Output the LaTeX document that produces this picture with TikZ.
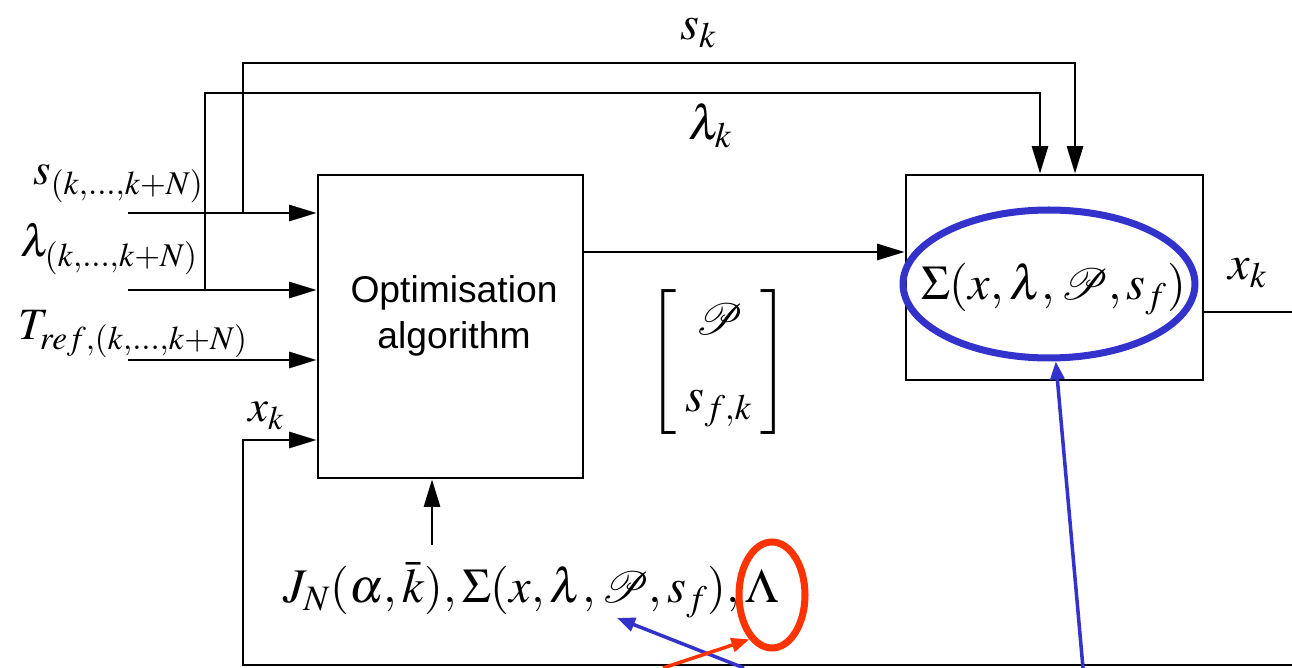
\documentclass[tikz,border=0pt]{standalone}
\usepackage{mathptmx}
\usepackage{mathrsfs}
\usepackage[no-math]{fontspec}
\newfontfamily\arialfont{Liberation Sans}
\usetikzlibrary{arrows.meta,shapes.geometric}
\definecolor{ringblue}{RGB}{51,51,204}
\definecolor{ringred}{RGB}{255,51,0}
\tikzset{
  blk/.style={draw, line width=1.6pt, inner sep=0pt},
  conn/.style={line width=1.6pt, -{Triangle[length=5.5mm,width=3.2mm]}},
  wire/.style={line width=1.6pt},
  lbl/.style={inner sep=0pt, font=\fontsize{27.5}{32}\selectfont},
  sublbl/.style={inner sep=0pt, font=\fontsize{25.5}{30}\selectfont},
  ring/.style={ellipse, draw, line width=4pt, inner sep=0pt},
  note/.style={line width=2pt, -{Triangle[length=3.6mm,width=2.8mm]}},
}
\begin{document}
\begin{tikzpicture}[x=0.02cm,y=-0.02cm]
\useasboundingbox (0,0) rectangle (1292,668);
% blocks
\node[blk, minimum width=5.3cm, minimum height=6.06cm] (opt) at (450.5,326.5) {};
\node[inner sep=0pt, align=center, font=\arialfont\fontsize{21.2}{26}\selectfont] (optt) at (454,316) {Optimisation\\algorithm};
\node[blk, minimum width=5.94cm, minimum height=4.1cm] (sig) at (1054.5,277.5) {};
\node[lbl, anchor=base west] (sigt) at (921,300) {$\Sigma(x,\lambda,\mathscr{P},s_f)$};
\node[ring, draw=ringblue, minimum width=5.84cm, minimum height=2.96cm] (sigring) at (1049,284) {};
% labels
\node[lbl, anchor=base west] (skl) at (680,40) {$s_k$};
\node[lbl, anchor=base west] (lkl) at (688,140) {$\lambda_k$};
\node[lbl, anchor=base west] (xko) at (1228,280) {$x_k$};
\node[sublbl, anchor=base west] (sin) at (33,185) {$s_{(k,\dots,k+N)}$};
\node[sublbl, anchor=base west] (lin) at (20,257) {$\lambda_{(k,\dots,k+N)}$};
\node[sublbl, anchor=base west] (tin) at (18,340) {$T_{ref,(k,\dots,k+N)}$};
\node[sublbl, anchor=base west] (xin) at (248,422) {$x_k$};
\node[lbl] (vec) at (719,362) {$\left[\begin{array}{c}\mathscr{P}\\[12pt] s_{f,k}\end{array}\right]$};
\node[lbl, anchor=base west] (cost) at (283,603) {$J_N(\alpha,\bar{k}),\Sigma(x,\lambda,\mathscr{P},s_f),\Lambda$};
\node[ring, draw=ringred, minimum width=1.32cm, minimum height=2.12cm] (lamring) at (772,595) {};
% coordinates
\coordinate (ps) at (128,213);
\coordinate (pl) at (128,290);
\coordinate (pt) at (128,360);
\coordinate (stap) at (243,213);
\coordinate (stop) at (243,63);
\coordinate (sright) at (1075,63);
\coordinate (ltap) at (205,290);
\coordinate (ltop) at (205,93);
\coordinate (lright) at (1040,93);
\coordinate (mid) at (700,252);
\coordinate (out) at (1292,312);
\coordinate (fb0) at (1292,665);
\coordinate (fbc) at (243,665);
\coordinate (fbt) at (243,440);
\coordinate (jn) at (432,545);
\coordinate (b1) at (1083,668);
\coordinate (b2) at (744,668);
\coordinate (pnt) at (617,618);
\coordinate (r1) at (663,668);
% connectors
\draw[conn] (ps) -- (ps -| opt.west);
\draw[conn] (pl) -- (pl -| opt.west);
\draw[conn] (pt) -- (pt -| opt.west);
\draw[conn] (stap) -- (stop) -- (sright) -- (sright |- sig.north);
\draw[conn] (ltap) -- (ltop) -- (lright) -- (lright |- sig.north);
\draw[conn] (mid -| opt.east) -- (mid -| sig.west);
\draw[wire] (out -| sig.east) -- (out);
\draw[conn] (fb0) -- (fbc) -- (fbt) -- (fbt -| opt.west);
\draw[conn] (jn) -- (jn |- opt.south);
% annotations
\draw[note, ringblue] (b1) -- (sigring.-85);
\draw[note, ringblue] (b2) -- (pnt);
\draw[note, ringred] (r1) -- (lamring.-117);
\end{tikzpicture}
\end{document}
